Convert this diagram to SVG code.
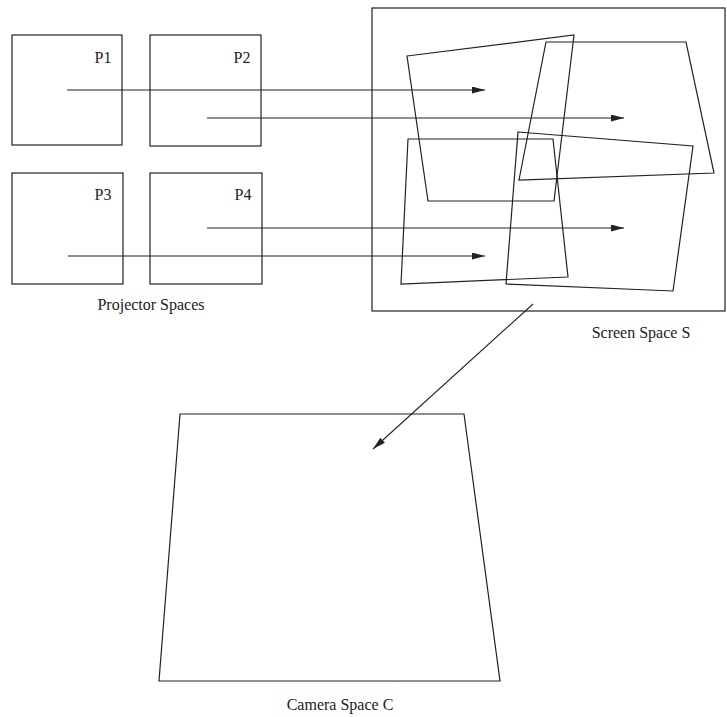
<svg xmlns="http://www.w3.org/2000/svg" width="727" height="717" viewBox="0 0 727 717">
<style>
.s{fill:none;stroke:#222;stroke-width:1.2}
.t{font-family:"Liberation Serif","Times New Roman",serif;font-size:16px;fill:#222}
.c{stroke:#222;stroke-width:1.1;fill:none}
</style>
<defs>
<marker id="ah" markerWidth="14" markerHeight="8" refX="13" refY="3.5" orient="auto" markerUnits="userSpaceOnUse">
<path d="M0,0 L13,3.5 L0,7 Z" fill="#222"/>
</marker>
</defs>
<rect width="727" height="717" fill="#fff"/>
<g id="p1"><rect class="s" x="12" y="35" width="110" height="110"/><text class="t" x="103" y="63" text-anchor="middle">P1</text></g>
<g id="p2"><rect class="s" x="150" y="35" width="111" height="111"/><text class="t" x="242" y="63" text-anchor="middle">P2</text></g>
<g id="p3"><rect class="s" x="12" y="173" width="111" height="111"/><text class="t" x="103" y="200" text-anchor="middle">P3</text></g>
<g id="p4"><rect class="s" x="150" y="173" width="112" height="111"/><text class="t" x="243" y="200" text-anchor="middle">P4</text></g>
<g id="projector-label"><text class="t" x="151" y="310" text-anchor="middle">Projector Spaces</text></g>
<g id="screen">
<rect class="s" x="372" y="8" width="353" height="303"/>
<polygon class="s" points="407,56 574,35 554,201 428,201"/>
<polygon class="s" points="546,42 686,42 714,173 519,180"/>
<polygon class="s" points="408,139 553,139 568,277 401,284"/>
<polygon class="s" points="518,132 693,146 673,291 506,284"/>
<text class="t" x="641" y="338" text-anchor="middle">Screen Space S</text>
</g>
<g id="camera">
<polygon class="s" points="180,414 464,414 500,681 159,681"/>
<text class="t" x="340" y="710" text-anchor="middle">Camera Space C</text>
</g>
<g id="connectors">
<line class="c" x1="67" y1="90" x2="485" y2="90" marker-end="url(#ah)"/>
<line class="c" x1="207" y1="118" x2="624" y2="118" marker-end="url(#ah)"/>
<line class="c" x1="207" y1="228" x2="624" y2="228" marker-end="url(#ah)"/>
<line class="c" x1="68" y1="256" x2="485" y2="256" marker-end="url(#ah)"/>
<line class="c" x1="533" y1="304" x2="373" y2="449" marker-end="url(#ah)"/>
</g>
</svg>
